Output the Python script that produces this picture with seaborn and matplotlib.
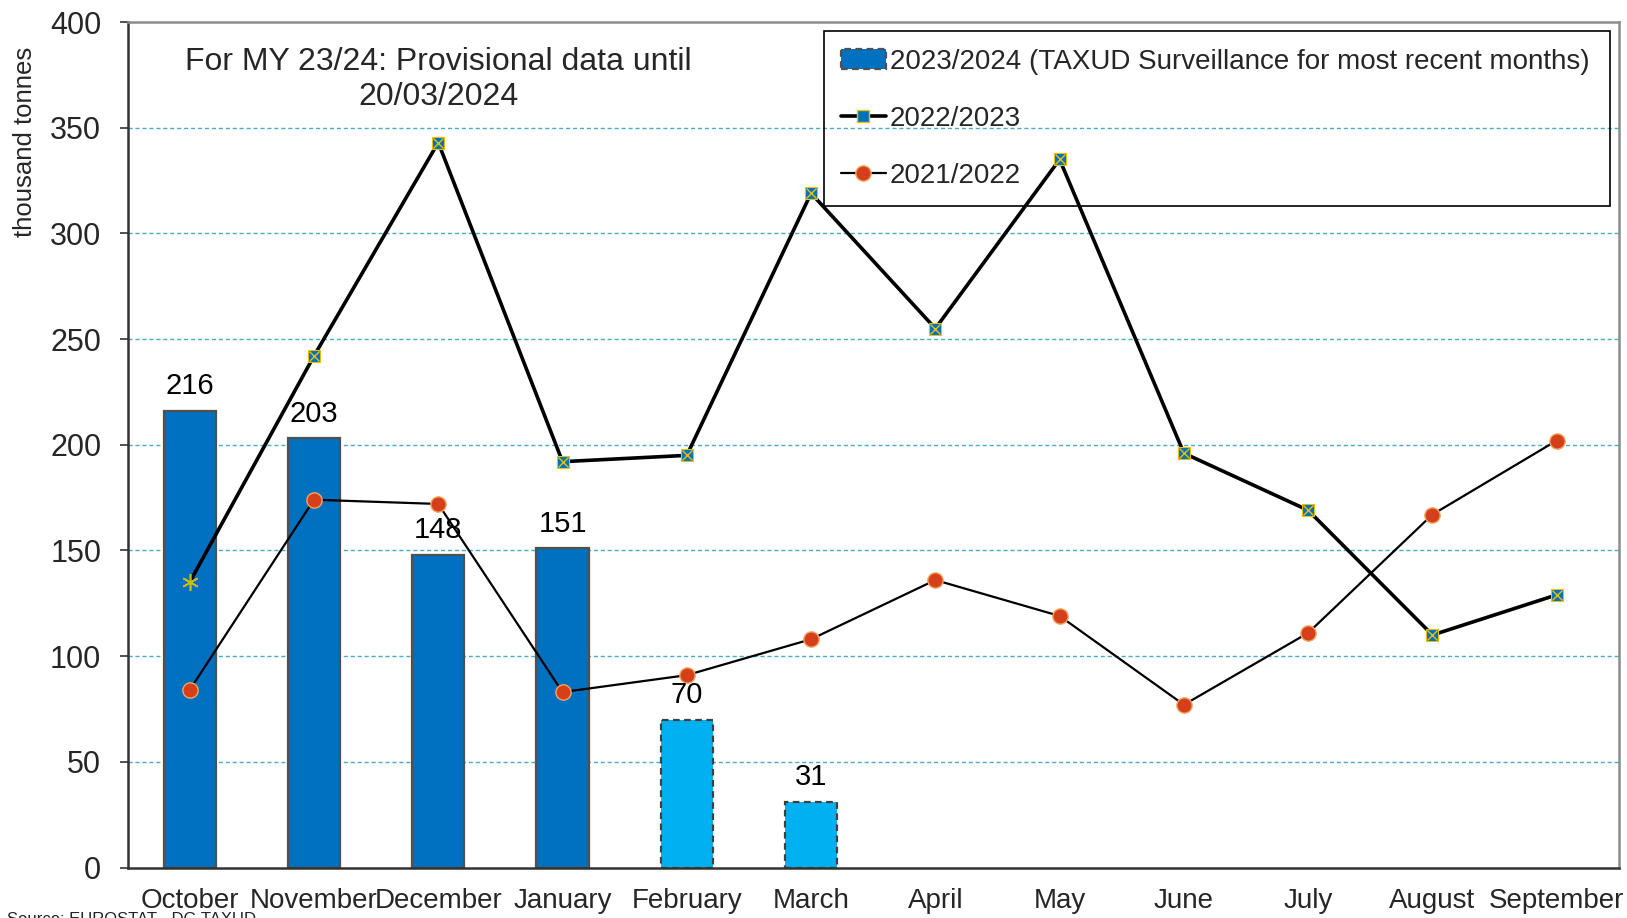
import numpy as np
import pandas as pd
import matplotlib
matplotlib.use("Agg")
import matplotlib.pyplot as plt
import seaborn as sns
from matplotlib.patches import Patch
from matplotlib.lines import Line2D

months = ["October", "November", "December", "January", "February", "March",
          "April", "May", "June", "July", "August", "September"]
bar_months = ["October", "November", "December", "January", "February", "March"]
my_2324 = [216, 203, 148, 151, 70, 31]
my_2223 = [135, 242, 343, 192, 195, 319, 255, 335, 196, 169, 110, 129]
my_2122 = [84, 174, 172, 83, 91, 108, 136, 119, 77, 111, 167, 202]
label_2324 = "2023/2024 (TAXUD Surveillance for most recent months)"
label_2223 = "2022/2023"
label_2122 = "2021/2022"
yticks = [0, 50, 100, 150, 200, 250, 300, 350, 400]

sns.set_theme(style="white")
plt.rcParams["font.family"] = ["Liberation Sans", "DejaVu Sans"]

fig = plt.figure(figsize=(16.27, 9.18), dpi=100)
ax = fig.add_axes([0.0784, 0.055, 0.9166, 0.921])

grid_col = "#4BACC6"
for v in yticks[1:-1]:
    ax.axhline(v, color=grid_col, lw=1.0, ls=(0, (3, 2)), zorder=0)

bar_df = pd.DataFrame({"month": bar_months, "value": my_2324})
bar_colors = ["#0070C0"] * 4 + ["#00B0F0"] * 2
sns.barplot(data=bar_df, x="month", y="value", order=months, hue="month",
            hue_order=bar_months, palette=bar_colors, legend=False,
            width=0.42, saturation=1, ax=ax, zorder=2)
for i, p in enumerate(ax.patches):
    p.set_edgecolor("#505050")
    p.set_linewidth(1.6)
    if i >= 4:
        p.set_linestyle((0, (3, 2)))
        p.set_edgecolor("#404040")
    h = p.get_height()
    ax.text(p.get_x() + p.get_width() / 2, h + 5, f"{h:.0f}", ha="center",
            va="bottom", fontsize=21, color="black", zorder=5)

x = np.arange(len(months))
df = pd.DataFrame({"x": x, "y2223": my_2223, "y2122": my_2122})
sns.lineplot(data=df, x="x", y="y2122", color="black", lw=1.6, ax=ax, zorder=3)
sns.lineplot(data=df, x="x", y="y2223", color="black", lw=2.6, ax=ax, zorder=3)
ax.plot(df["x"], df["y2122"], ls="none", marker="o", ms=11, mfc="#D5401A",
        mec="#F4A460", mew=1, zorder=4)
ax.plot(df["x"][1:], df["y2223"][1:], ls="none", marker="s", ms=9, mfc="#0070C0",
        mec="#E8C000", mew=0.8, zorder=4)
ax.plot(df["x"][1:], df["y2223"][1:], ls="none", marker="x", ms=7, color="#E8C000",
        mew=1.0, zorder=5)
ax.plot(df["x"][:1], df["y2223"][:1], ls="none", marker=(6, 2, 0), ms=12,
        color="#C8C000", mew=1.2, zorder=5)

ax.set_xlim(-0.5, 11.5)
ax.set_ylim(0, 400)
ax.set_yticks(yticks)
ax.set_yticklabels([str(v) for v in yticks], fontsize=22)
ax.set_xticks(np.arange(-0.5, 12, 1))
ax.set_xticklabels([])
ax.set_xticks(x, minor=True)
ax.set_xticklabels(months, minor=True, fontsize=20)
ax.tick_params(axis="x", which="major", direction="in", length=9, width=1.2, color="#333333")
ax.tick_params(axis="x", which="minor", length=0, pad=15)
ax.tick_params(axis="y", direction="out", length=6, width=1.2, pad=13, color="#333333", left=True)
ax.set_xlabel("")
ax.set_ylabel("thousand tonnes", fontsize=18.5)
ax.yaxis.set_label_coords(-0.061, 0.858)

for side in ["left", "bottom"]:
    ax.spines[side].set_color("#333333")
    ax.spines[side].set_linewidth(1.8)
for side in ["top", "right"]:
    ax.spines[side].set_color("#8C8C8C")
    ax.spines[side].set_linewidth(1.8)

ax.text(2.0, 388, "For MY 23/24: Provisional data until\n20/03/2024", ha="center",
        va="top", fontsize=23, linespacing=1.22, zorder=6)

handles = [
    Patch(facecolor="#0070C0", edgecolor="#505050", linestyle=(0, (3, 2)), linewidth=1.6),
    Line2D([0], [0], color="black", lw=2.6, marker="s", ms=8, mfc="#0070C0", mec="#E8C000"),
    Line2D([0], [0], color="black", lw=1.6, marker="o", ms=11, mfc="#D5401A", mec="#F4A460"),
]
leg = ax.legend(handles, [label_2324, label_2223, label_2122], loc="upper left",
                bbox_to_anchor=(0.467, 0.989, 0.527, 0.0), mode="expand",
                fontsize=20, frameon=True, fancybox=False,
                handlelength=1.6, handletextpad=0.15,
                labelspacing=1.12, borderpad=0.62, borderaxespad=0)
frame = leg.get_frame()
frame.set_facecolor("none")
frame.set_edgecolor("black")
frame.set_alpha(None)
frame.set_linewidth(1.2)
leg.set_zorder(1)

fig.text(0.004, 1 - 912 / 918, "Source: EUROSTAT - DG TAXUD", ha="left", va="top",
         fontsize=12, color="#222222")

fig.savefig("out.png", dpi=100, facecolor="white")
